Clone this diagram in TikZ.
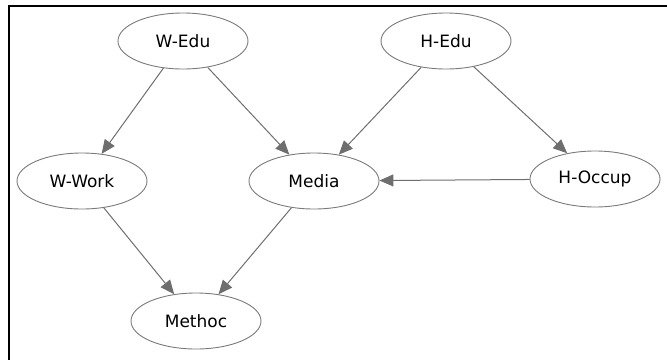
\documentclass[tikz,border=0pt]{standalone}
\usepackage{fontspec}
\setmainfont{DejaVu Sans}
\usetikzlibrary{shapes.geometric,arrows.meta}
\definecolor{edgegray}{HTML}{6E6E6E}
\definecolor{rimgray}{HTML}{7A7A7A}
\tikzset{
  var/.style={ellipse, draw=rimgray, line width=0.9pt, fill=white,
    minimum width=130pt, minimum height=56pt, inner sep=0pt,
    font=\fontsize{17}{19}\selectfont},
  link/.style={draw=edgegray, line width=1pt,
    -{Triangle[length=14pt,width=12pt,fill=edgegray]}}
}
\begin{document}
\begin{tikzpicture}[x=1pt,y=-1pt]
\useasboundingbox (0,0) rectangle (667,360);
% frame
\draw[line width=2.2pt] (667,6) -- (9,6) -- (9,360);
% variables
\node[var] (wedu) at (183,41) {W-Edu};
\node[var] (hedu) at (446,41) {H-Edu};
\node[var] (wwork) at (82,181) {W-Work};
\node[var] (media) at (314,181) {Media};
\node[var] (hoccup) at (595,179) {H-Occup};
\node[var] (method) at (196,321) {Methoc};
% dependencies
\draw[link] (wedu) -- (wwork);
\draw[link] (wedu) -- (media);
\draw[link] (hedu) -- (media);
\draw[link] (hedu) -- (hoccup);
\draw[link] (hoccup) -- (media);
\draw[link] (wwork) -- (method);
\draw[link] (media) -- (method);
\end{tikzpicture}
\end{document}
